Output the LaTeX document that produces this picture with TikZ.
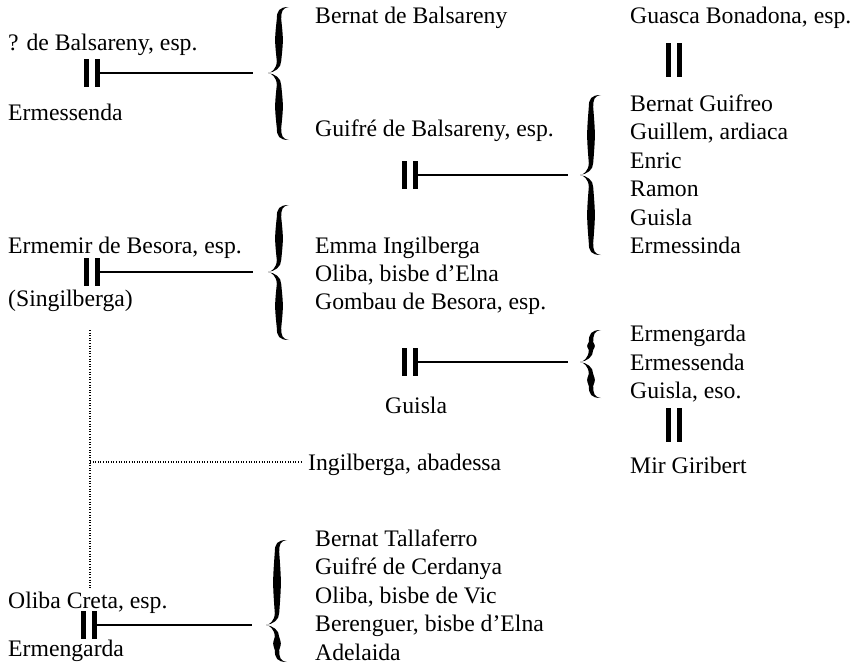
\documentclass[tikz,border=0pt]{standalone}
\usepackage{fontspec}
\setmainfont{Liberation Serif}
\begin{document}
\begin{tikzpicture}[x=1pt,y=-1pt,
  txt/.style={anchor=base west, inner sep=0pt, font=\fontsize{23.7}{28}\selectfont},
  marr/.style={minimum width=16.5pt, minimum height=28pt, inner sep=0pt,
    path picture={\fill (path picture bounding box.south west) rectangle ([xshift=5.5pt]path picture bounding box.north west);
      \fill ([xshift=-5.5pt]path picture bounding box.south east) rectangle (path picture bounding box.north east);}},
  marrv/.style={marr, minimum height=34pt},
  link/.style={line width=1.8pt},
  dots/.style={line width=1.3pt, dash pattern=on 1pt off 1.6pt}]
\newcommand\tbrace[4]{%
 \pgfmathsetmacro\bX{#1}%
 \pgfmathsetmacro\bE{#1+21}%
 \pgfmathsetmacro\bS{#1+11}%
 \pgfmathsetmacro\bSl{#1+11-4.4}%
 \pgfmathsetmacro\bSlt{#1+11-2.2}%
 \pgfmathsetmacro\bSr{#1+11+4.4}%
 \pgfmathsetmacro\bSrt{#1+11+2.2}%
 \pgfmathsetmacro\bA{(#2+#3)/2}%
 \pgfmathsetmacro\bB{(#3+#4)/2}%
 \fill (\bE,#2) .. controls (\bS,#2) and (\bSlt,#2+4) .. (\bSlt,#2+12)
   .. controls (\bSl,\bA) .. (\bSlt,#3-12)
   .. controls (\bSlt,#3-4) and (\bX+3,#3) .. (\bX,#3)
   .. controls (\bX+3,#3) and (\bSlt,#3+4) .. (\bSlt,#3+12)
   .. controls (\bSl,\bB) .. (\bSlt,#4-12)
   .. controls (\bSlt,#4-4) and (\bS,#4) .. (\bE,#4)
   .. controls (\bS+3,#4-1) and (\bSrt,#4-5) .. (\bSrt,#4-12)
   .. controls (\bSr,\bB) .. (\bSrt,#3+12)
   .. controls (\bSrt,#3+5) and (\bX+7,#3+1) .. (\bX,#3)
   .. controls (\bX+7,#3-1) and (\bSrt,#3-5) .. (\bSrt,#3-12)
   .. controls (\bSr,\bA) .. (\bSrt,#2+12)
   .. controls (\bSrt,#2+5) and (\bS+3,#2+1) .. (\bE,#2) -- cycle;}
\useasboundingbox (0,0) rectangle (863,665);
% braces
\tbrace{268}{7}{73}{140}
\tbrace{580}{95}{175}{255}
\tbrace{268}{205}{272}{340}
\tbrace{580}{330}{362}{398}
\tbrace{266}{540}{625}{662}
\coordinate (c1) at (253,73);
\coordinate (c2) at (568,175);
\coordinate (c3) at (253,272);
\coordinate (c4) at (568,362);
\coordinate (c5) at (252,625);
% left column
\node[txt] (a1) at (8,50) {? de Balsareny, esp.};
\node[marr] (m1) at (92,73) {};
\node[txt] (a2) at (8,120) {Ermessenda};
\node[txt] (a3) at (8,253) {Ermemir de Besora, esp.};
\node[marr] (m3) at (92,272) {};
\node[txt] (a4) at (8,306) {(Singilberga)};
\node[txt] (a5) at (8,608) {Oliba Creta, esp.};
\node[marr] (m5) at (89,625) {};
\node[txt] (a6) at (8,656) {Ermengarda};
% middle column
\node[txt] (b1) at (315,23) {Bernat de Balsareny};
\node[txt] (b2) at (315,136) {Guifré de Balsareny, esp.};
\node[marr] (m2) at (410,175) {};
\node[txt] (b3) at (315,253) {Emma Ingilberga};
\node[txt] (b4) at (315,281) {Oliba, bisbe d’Elna};
\node[txt] (b5) at (315,309) {Gombau de Besora, esp.};
\node[marr] (m4) at (410,362) {};
\node[txt] (b6) at (385,413) {Guisla};
\node[txt] (ing) at (308,470) {Ingilberga, abadessa};
\node[txt] (b7) at (315,546) {Bernat Tallaferro};
\node[txt] (b8) at (315,574.5) {Guifré de Cerdanya};
\node[txt] (b9) at (315,603) {Oliba, bisbe de Vic};
\node[txt] (b10) at (315,631.5) {Berenguer, bisbe d’Elna};
\node[txt] (b11) at (315,660) {Adelaida};
% right column
\node[txt] (r0) at (630,23) {Guasca Bonadona, esp.};
\node[marrv] (m6) at (674,60) {};
\node[txt] (r1) at (630,111) {Bernat Guifreo};
\node[txt] (r2) at (630,139.5) {Guillem, ardiaca};
\node[txt] (r3) at (630,168) {Enric};
\node[txt] (r4) at (630,196.5) {Ramon};
\node[txt] (r5) at (630,225) {Guisla};
\node[txt] (r6) at (630,253) {Ermessinda};
\node[txt] (r7) at (630,341) {Ermengarda};
\node[txt] (r8) at (630,370) {Ermessenda};
\node[txt] (r9) at (630,398) {Guisla, eso.};
\node[marrv] (m7) at (674,425) {};
\node[txt] (r10) at (630,473) {Mir Giribert};
% connectors
\draw[link] (m1.east) -- (m1.east -| c1);
\draw[link] (m2.east) -- (m2.east -| c2);
\draw[link] (m3.east) -- (m3.east -| c3);
\draw[link] (m4.east) -- (m4.east -| c4);
\draw[link] (m5.east) -- (m5.east -| c5);
\coordinate (d1) at (90,330);
\coordinate (d2) at (90,589);
\coordinate (d3) at (90,462);
\draw[dots] (d1) -- (d2);
\draw[dots] (d3) -- ([xshift=-6pt]d3 -| ing.west);
\end{tikzpicture}
\end{document}
